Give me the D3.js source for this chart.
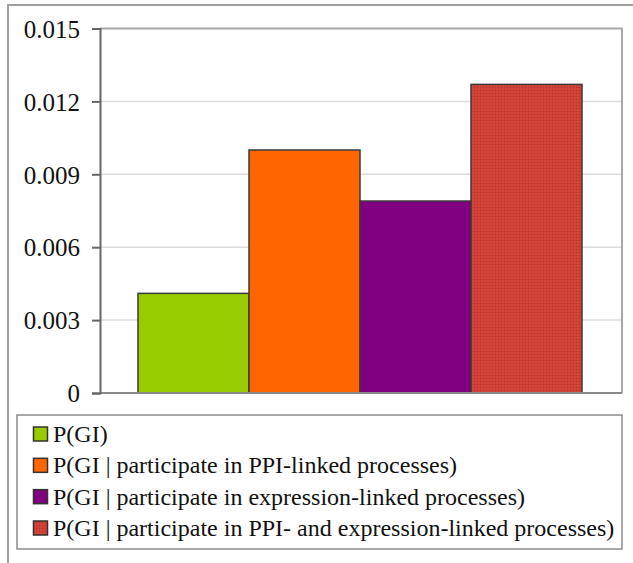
<!DOCTYPE html>
<html><head><meta charset="utf-8">
<script src="https://cdn.jsdelivr.net/npm/d3@7"></script>
<style>body{margin:0;background:#fff}svg{display:block}</style>
</head><body>
<script>
const seriesLabels = [
  "P(GI)",
  "P(GI | participate in PPI-linked processes)",
  "P(GI | participate in expression-linked processes)",
  "P(GI | participate in PPI- and expression-linked processes)"
];
const seriesValues = [0.0041, 0.0100, 0.0079, 0.0127];
const seriesColors = ["#99cc00", "#ff6600", "#800080", "url(#dots)"];
const yTicks = [0, 0.003, 0.006, 0.009, 0.012, 0.015];
const yTickLabels = ["0", "0.003", "0.006", "0.009", "0.012", "0.015"];

const FONT = '"Liberation Serif", "Times New Roman", serif';
const W = 633, H = 563;
const svg = d3.select("body").append("svg").attr("width", W).attr("height", H);
const defs = svg.append("defs");
const pat = defs.append("pattern").attr("id", "dots").attr("patternUnits", "userSpaceOnUse")
  .attr("width", 3).attr("height", 3);
pat.append("rect").attr("width", 3).attr("height", 3).attr("fill", "#cf3d35");
pat.append("rect").attr("x", 0).attr("y", 0).attr("width", 1).attr("height", 1).attr("fill", "#b8342e");
pat.append("rect").attr("x", 1.5).attr("y", 1.5).attr("width", 1).attr("height", 1).attr("fill", "#dd5a3c");

// outer frame
svg.append("path").attr("d", `M8,${H} L8,5 L${W},5`).attr("fill", "none")
  .attr("stroke", "#a0a0a0").attr("stroke-width", 2);

const plot = {left: 100, right: 622, top: 28.5, bottom: 393};
const y = d3.scaleLinear().domain([0, 0.015]).range([plot.bottom, plot.top]);
const x = d3.scaleBand().domain(d3.range(seriesValues.length))
  .range([138, 582]).paddingInner(0).paddingOuter(0);

svg.append("g").selectAll("line").data(yTicks.slice(1, -1)).join("line")
  .attr("x1", plot.left).attr("x2", plot.right)
  .attr("y1", d => y(d)).attr("y2", d => y(d))
  .attr("stroke", "#dcdcdc").attr("stroke-width", 1.5);

svg.append("path").attr("d", `M${plot.left},${plot.top} L${plot.right},${plot.top} L${plot.right},${plot.bottom}`)
  .attr("fill", "none").attr("stroke", "#a8a8a8").attr("stroke-width", 2);

svg.append("g").selectAll("rect").data(seriesValues).join("rect")
  .attr("x", (d, i) => x(i)).attr("width", x.bandwidth())
  .attr("y", d => y(d)).attr("height", d => plot.bottom - y(d))
  .attr("fill", (d, i) => seriesColors[i])
  .attr("stroke", "#3a3a3a").attr("stroke-width", 1.5);

svg.append("line").attr("x1", plot.left).attr("x2", plot.right)
  .attr("y1", plot.bottom).attr("y2", plot.bottom)
  .attr("stroke", "#8a8a8a").attr("stroke-width", 2);

const yAxis = d3.axisLeft(y).tickValues(yTicks).tickSize(8).tickPadding(12)
  .tickFormat((d, i) => yTickLabels[i]);
const ga = svg.append("g").attr("transform", `translate(${plot.left},0)`).call(yAxis);
ga.select(".domain").attr("stroke", "#666").attr("stroke-width", 2);
ga.selectAll(".tick line").attr("stroke", "#666").attr("stroke-width", 2);
ga.selectAll(".tick text").style("font-family", FONT).style("font-size", "25px")
  .attr("fill", "#111").attr("dy", "0.35em");

const lg = {left: 17, top: 415, right: 622, bottom: 549};
svg.append("rect").attr("x", lg.left).attr("y", lg.top)
  .attr("width", lg.right - lg.left).attr("height", lg.bottom - lg.top)
  .attr("fill", "#fff").attr("stroke", "#8c8c8c").attr("stroke-width", 1.5);
const rowY = d3.scaleLinear().domain([0, 3]).range([434, 528]);
const items = svg.append("g").selectAll("g").data(seriesLabels).join("g")
  .attr("transform", (d, i) => `translate(0,${rowY(i)})`);
items.append("rect").attr("x", 33.5).attr("y", -7).attr("width", 14).attr("height", 14)
  .attr("fill", (d, i) => seriesColors[i]).attr("stroke", "#333").attr("stroke-width", 1.5);
const lt = items.append("text").attr("x", 53).attr("y", 0).attr("dy", "0.33em")
  .style("font-family", FONT).style("font-size", "24px").attr("fill", "#111")
  .text(d => d);
// keep the longest label inside the legend box
const lens = lt.nodes().map(n => n.getComputedTextLength());
const k = Math.min(1, 564 / d3.max(lens));
if (k < 1) lt.attr("textLength", (d, i) => lens[i] * k).attr("lengthAdjust", "spacingAndGlyphs");
</script>
</body></html>
